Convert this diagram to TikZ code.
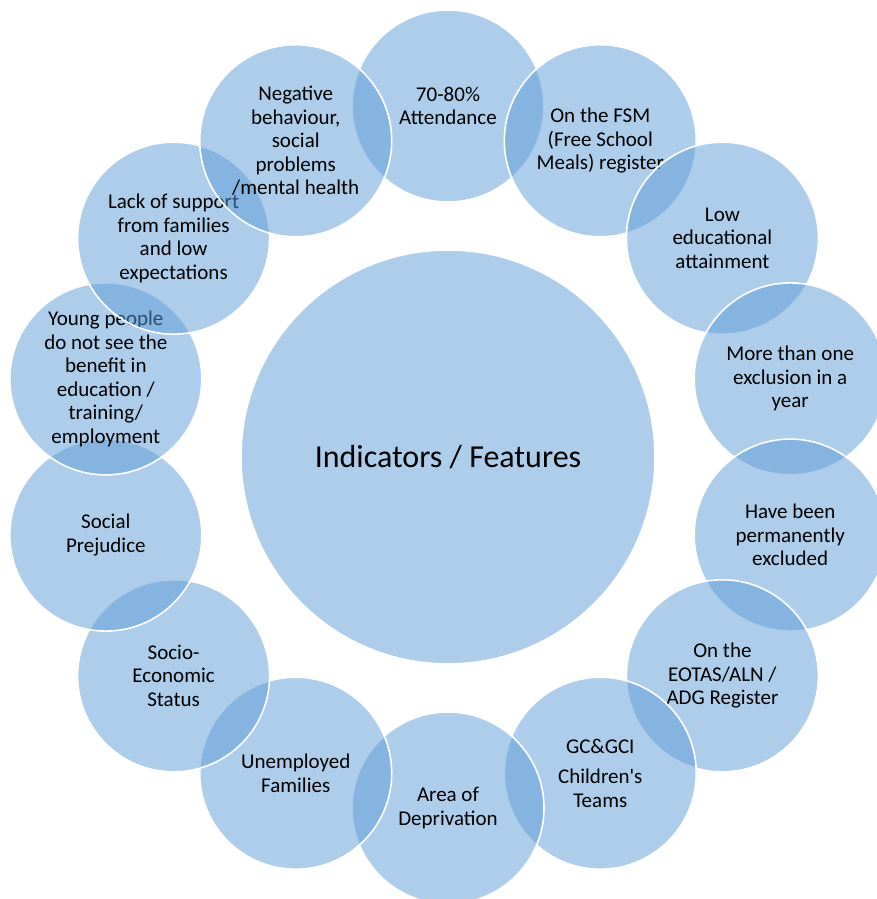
\documentclass[tikz,border=0pt]{standalone}
\usepackage{fontspec}
\setmainfont{Carlito}
\usepackage{tikz}
\definecolor{bubblue}{HTML}{5B9BD5}

\begin{document}
\begin{tikzpicture}[x=1pt, y=1pt,
    bubble/.style={circle, fill=bubblue, fill opacity=0.5, text opacity=1, draw=white, draw opacity=1, line width=1.6pt, minimum size=192pt, inner sep=0pt, align=center, font=\fontsize{21}{23.5}\selectfont},
    hub/.style={bubble, minimum size=414pt, font=\fontsize{32}{36}\selectfont}
]
\clip (0,0) rectangle (877,899);
\coordinate (centre) at (448,442);
% central circle
\node[hub] (hub) at (centre) {Indicators / Features};
% ring of features, clockwise from the top
\node[bubble] (attend)  at ([shift={(90:351)}]centre) {70-80\%\\Attendance};
\node[bubble] (fsm)     at ([shift={(64.286:351)}]centre) {On the FSM\\(Free School\\Meals) register};
\node[bubble] (lowatt)  at ([shift={(38.571:351)}]centre) {Low\\educational\\attainment};
\node[bubble] (excl)    at ([shift={(12.857:351)}]centre) {More than one\\exclusion in a\\year};
\node[bubble] (perm)    at ([shift={(-12.857:351)}]centre) {Have been\\permanently\\excluded};
\node[bubble] (eotas)   at ([shift={(-38.571:351)}]centre) {On the\\EOTAS/ALN /\\ADG Register};
\node[bubble] (gcteam)  at ([shift={(-64.286:351)}]centre) {GC\&GCI\\[7pt]Children\textquotesingle s\\Teams};
\node[bubble] (depriv)  at ([shift={(-90:351)}]centre) {Area of\\Deprivation};
\node[bubble] (unemp)   at ([shift={(-115.714:351)}]centre) {Unemployed\\Families};
\node[bubble] (socio)   at ([shift={(-141.429:351)}]centre) {Socio-\\Economic\\Status};
\node[bubble] (prej)    at ([shift={(-167.143:351)}]centre) {Social\\Prejudice};
\node[bubble] (young)   at ([shift={(167.143:351)}]centre) {Young people\\do not see the\\benefit in\\education /\\training/\\employment};
\node[bubble] (support) at ([shift={(141.429:351)}]centre) {Lack of support\\from families\\and low\\expectations};
\node[bubble] (behave)  at ([shift={(115.714:351)}]centre) {Negative\\behaviour,\\social\\problems\\/mental health};
\end{tikzpicture}
\end{document}
